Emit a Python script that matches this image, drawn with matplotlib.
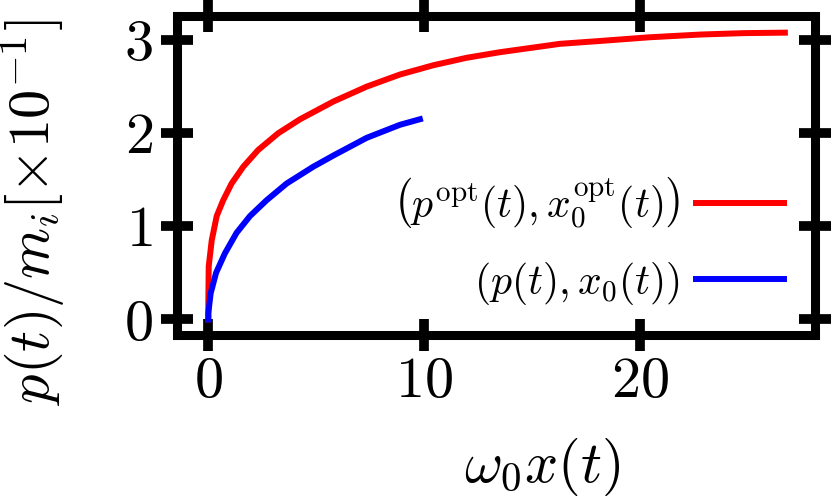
import matplotlib
matplotlib.use('Agg')
import matplotlib.pyplot as plt

plt.rcParams['font.family'] = 'serif'
plt.rcParams['font.serif'] = ['cmr10']
plt.rcParams['mathtext.fontset'] = 'cm'
plt.rcParams['axes.unicode_minus'] = False
plt.rcParams['axes.formatter.use_mathtext'] = True

# curves
x_opt = [0, 0.003, 0.02, 0.16, 0.39, 0.69, 1.08, 1.62, 2.31, 3.24, 4.25, 5.79,
         7.33, 8.87, 10.42, 11.96, 13.5, 15.05, 16.28, 18.1, 20.4, 22.8, 24.8, 26.7]
p_opt = [0, 0.21, 0.57, 0.85, 1.11, 1.28, 1.46, 1.64, 1.82, 2.0, 2.15, 2.34,
         2.50, 2.63, 2.73, 2.81, 2.87, 2.92, 2.96, 2.99, 3.03, 3.06, 3.075, 3.08]
x_reg = [0, 0.002, 0.11, 0.36, 0.77, 1.31, 1.93, 2.70, 3.63, 4.86, 5.79, 7.33, 8.87, 9.8]
p_reg = [0, 0.07, 0.28, 0.5, 0.71, 0.93, 1.11, 1.28, 1.46, 1.64, 1.76, 1.95, 2.09, 2.15]

xticks = [0, 10, 20]
yticks = [0, 1, 2, 3]

fig = plt.figure(figsize=(8.32, 4.97), dpi=100)
ax = fig.add_axes([0.2127, 0.326, 0.767, 0.642])

ax.plot(x_opt, p_opt, color='red', lw=4.3, solid_joinstyle='round',
        label=r'$\left(p^{\mathrm{opt}}(t),x_0^{\mathrm{opt}}(t)\right)$')
ax.plot(x_reg, p_reg, color='blue', lw=4.3, solid_joinstyle='round',
        label=r'$(p(t),x_0(t))$')

ax.set_xlim(-1.45, 28.1)
ax.set_ylim(-0.167, 3.26)
ax.set_xticks(xticks)
ax.set_yticks(yticks)

for s in ax.spines.values():
    s.set_linewidth(6.5)
ax.tick_params(direction='inout', length=23, width=7, top=True, right=True,
               labelsize=42, pad=6)
ax.tick_params(axis='x', pad=4)

ax.set_xlabel(r'$\omega_0 x(t)$', fontsize=42)
ax.set_ylabel(r'$p(t)/m_i[\times10^{-1}]$', fontsize=42)
ax.xaxis.set_label_coords(0.572, -0.315)
ax.yaxis.set_label_coords(-0.172, 0.386)

ax.legend(loc='lower right', bbox_to_anchor=(0.951, 0.088), frameon=False,
          markerfirst=False, fontsize=30, handlelength=2.1, handletextpad=0.4,
          borderpad=0, borderaxespad=0, labelspacing=0.7)

fig.savefig('out.png', dpi=100)
